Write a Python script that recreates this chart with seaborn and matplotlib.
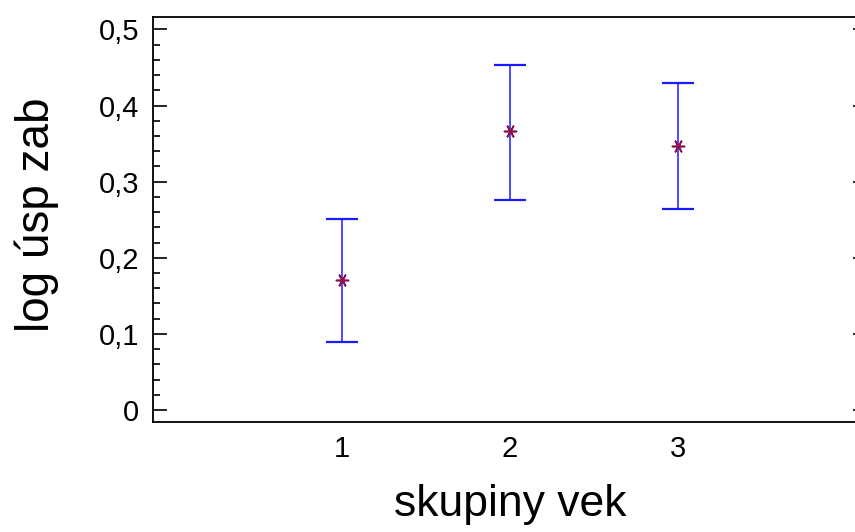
import numpy as np
import pandas as pd
import seaborn as sns
import matplotlib.pyplot as plt
from matplotlib.ticker import MultipleLocator, FuncFormatter

# group means with their interval limits
groups = [1, 2, 3]
means = [0.171, 0.366, 0.347]
lower = [0.089, 0.276, 0.264]
upper = [0.251, 0.453, 0.430]

sns.set_style('white')
plt.rcParams['font.family'] = ['Liberation Sans', 'DejaVu Sans']
plt.rcParams['text.color'] = 'black'
plt.rcParams['axes.labelcolor'] = 'black'
plt.rcParams['xtick.color'] = 'black'
plt.rcParams['ytick.color'] = 'black'

df = pd.DataFrame({'skupiny vek': groups, 'log úsp zab': means,
                   'lo': lower, 'hi': upper})

fig = plt.figure(figsize=(8.55, 5.32), dpi=100)
ax = fig.add_axes([153 / 855, 1 - 421.5 / 532, 714 / 855, 404.5 / 532])

yerr = np.array([df['log úsp zab'] - df['lo'], df['hi'] - df['log úsp zab']])
ax.errorbar(df['skupiny vek'], df['log úsp zab'], yerr=yerr, fmt='none',
            ecolor='#1a1aff', elinewidth=1.1, capsize=11.5, capthick=1.6)
sns.scatterplot(data=df, x='skupiny vek', y='log úsp zab', ax=ax,
                marker=(6, 2, 90), s=75, color='#8a1050', linewidth=1.2,
                edgecolor='#8a1050', zorder=3)

ax.set_xlim(-0.125, 4.125)
ax.set_ylim(-0.0151, 0.5164)
ax.set_xticks(groups)
ax.yaxis.set_major_locator(MultipleLocator(0.1))
ax.yaxis.set_minor_locator(MultipleLocator(0.02))
ax.yaxis.set_major_formatter(FuncFormatter(
    lambda v, p: '0' if abs(v) < 1e-9 else f'{v:.1f}'.replace('.', ',')))

ax.tick_params(axis='x', length=0, pad=10, labelsize=21)
ax.tick_params(axis='y', which='major', direction='in', length=10, width=1.2,
               left=True, right=True, pad=10, labelsize=21)
ax.tick_params(axis='y', which='minor', direction='in', length=5, width=1.2,
               left=True, right=False)

for s in ['left', 'bottom', 'top', 'right']:
    ax.spines[s].set_visible(True)
    ax.spines[s].set_color('black')
    ax.spines[s].set_linewidth(1.3)

ax.set_xlabel('skupiny vek', fontsize=32)
ax.set_ylabel('log úsp zab', fontsize=33)
ax.xaxis.set_label_coords(0.5, -0.205)
ax.xaxis.label.set_va('center')
ax.yaxis.set_label_coords(-0.163, 0.51)
ax.yaxis.label.set_va('center')

fig.savefig('out.png', dpi=100)
